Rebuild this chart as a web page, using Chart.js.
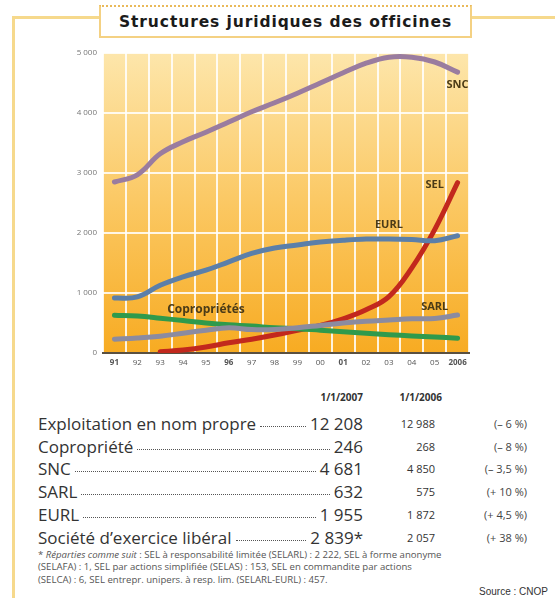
<!DOCTYPE html>
<html lang="fr">
<head>
<meta charset="utf-8">
<script src="https://cdn.jsdelivr.net/npm/chart.js@4"></script>
<style>
  body { margin: 0; width: 555px; height: 600px; position: relative; background: #fff; overflow: hidden; font-family: "Open Sans", sans-serif; }
  .frame { position: absolute; background: #f6d98c; }
  .title { position: absolute; left: 99px; top: 5px; width: 369px; height: 29px; border: 2px solid #f4d183; border-top: 2px dotted #e9b95a; background: #fff; text-align: center; line-height: 31px; font-family: "DejaVu Sans", sans-serif; font-weight: bold; font-size: 15.5px; letter-spacing: 0.9px; color: #1b1b1b; }
  #chart { position: absolute; left: 0; top: 0; }
  .hdr { position: absolute; top: 390px; font-size: 10px; font-weight: bold; color: #333; text-align: right; }
  .row { position: absolute; left: 38px; height: 23px; font-size: 17px; color: #333; }
  .lead { position: absolute; left: 0; width: 325px; display: flex; align-items: baseline; }
  .lead .dots { flex: 1; border-bottom: 1px dotted #555; margin: 0 4px; height: 0; position: relative; top: -3px; }
  .v06 { position: absolute; width: 60px; left: 337px; text-align: right; font-size: 11px; top: 4px; }
  .pct { position: absolute; width: 80px; left: 409px; text-align: right; font-size: 11px; top: 4px; color: #444; }
  .note { position: absolute; left: 38px; top: 549px; font-size: 9.6px; line-height: 12.4px; color: #555; white-space: nowrap; }
  .src { position: absolute; right: 7px; top: 586px; font-family: "Liberation Sans", sans-serif; font-size: 10px; color: #333; }
</style>
</head>
<body>
<div class="frame" style="left:12px; top:16px; width:88px; height:3px;"></div>
<div class="frame" style="left:471px; top:16px; width:84px; height:3px;"></div>
<div class="frame" style="left:12px; top:16px; width:3px; height:582px;"></div>
<div class="title">Structures juridiques des officines</div>
<canvas id="chart" width="555" height="375"></canvas>
<div id="table"></div>
<div class="note">* <i>Réparties comme suit</i> : SEL à responsabilité limitée (SELARL) : 2 222, SEL à forme anonyme<br>(SELAFA) : 1, SEL par actions simplifiée (SELAS) : 153, SEL en commandite par actions<br>(SELCA) : 6, SEL entrepr. unipers. à resp. lim. (SELARL-EURL) : 457.</div>
<div class="src">Source : CNOP</div>

<script>
// années (axe x)
const years = ["91", "92", "93", "94", "95", "96", "97", "98", "99", "00", "01", "02", "03", "04", "05", "2006"];
const boldYears = ["91", "96", "01", "2006"];
const yTicks = [0, 1000, 2000, 3000, 4000, 5000];

// séries
const snc   = [2850, 2970, 3320, 3520, 3680, 3850, 4020, 4170, 4330, 4500, 4670, 4830, 4930, 4930, 4850, 4681];
const eurl  = [915, 935, 1130, 1270, 1380, 1520, 1660, 1750, 1800, 1850, 1880, 1900, 1900, 1890, 1872, 1955];
const sel   = [null, null, 20, 50, 100, 170, 230, 300, 380, 460, 570, 720, 940, 1420, 2057, 2839];
const sarl  = [230, 250, 280, 330, 380, 420, 390, 390, 420, 460, 500, 530, 550, 570, 575, 632];
const copro = [630, 615, 580, 540, 500, 470, 450, 420, 405, 380, 355, 330, 305, 285, 268, 246];

// étiquettes posées sur les courbes : [texte, index année, valeur]
const lineLabels = [
    ["SNC", 15, 4470],
    ["SEL", 14, 2800],
    ["EURL", 12, 2130],
    ["SARL", 14, 770],
    ["Copropriétés", 4, 720]
];

// tableau
const rowLabels = ["Exploitation en nom propre", "Copropriété", "SNC", "SARL", "EURL", "Société d’exercice libéral"];
const val2007 = ["12 208", "246", "4 681", "632", "1 955", "2 839*"];
const val2006 = ["12 988", "268", "4 850", "575", "1 872", "2 057"];
const change  = ["(– 6 %)", "(– 8 %)", "(– 3,5 %)", "(+ 10 %)", "(+ 4,5 %)", "(+ 38 %)"];

// --- tableau HTML
let table = document.getElementById("table");
table.innerHTML = `<div class="hdr" style="left:303px; width:60px;">1/1/2007</div>
                   <div class="hdr" style="left:382px; width:60px;">1/1/2006</div>`;
rowLabels.forEach((l, i) => {
    table.innerHTML += `
        <div class="row" style="top:${412 + i * 22.7}px">
            <div class="lead"><span>${l}</span><span class="dots"></span><span>${val2007[i]}</span></div>
            <div class="v06">${val2006[i]}</div>
            <div class="pct">${change[i]}</div>
        </div>`;
});

// --- fond dégradé de la zone de tracé
const bgPlugin = {
    id: "bg",
    beforeDraw(chart) {
        const { ctx, chartArea: a } = chart;
        let g = ctx.createLinearGradient(0, a.top, 0, a.bottom);
        g.addColorStop(0, "#fde6ab");
        g.addColorStop(0.5, "#fbc863");
        g.addColorStop(1, "#f7ab22");
        ctx.save();
        ctx.fillStyle = g;
        ctx.fillRect(a.left, a.top, a.right - a.left, a.bottom - a.top);
        ctx.restore();
    }
};

// --- étiquettes des courbes
const labelPlugin = {
    id: "lineLabels",
    afterDatasetsDraw(chart) {
        const { ctx, scales: { x, y } } = chart;
        ctx.save();
        ctx.textAlign = "center";
        ctx.textBaseline = "middle";
        lineLabels.forEach(([t, i, v]) => {
            ctx.font = t === "Copropriétés" ? "bold 12px 'Open Sans'" : "bold 11px 'Open Sans'";
            ctx.fillStyle = "#4b3b17";
            ctx.fillText(t, x.getPixelForValue(i), y.getPixelForValue(v));
        });
        ctx.restore();
    }
};

function ds(label, data, color) {
    return {
        label: label,
        data: data,
        borderColor: color,
        borderWidth: 5,
        borderCapStyle: "round",
        pointRadius: 0,
        tension: 0.4,
        fill: false
    };
}

new Chart(document.getElementById("chart"), {
    type: "line",
    data: {
        labels: years,
        datasets: [
            ds("SNC", snc, "#9a7c9f"),
            ds("EURL", eurl, "#5b7fa9"),
            ds("SARL", sarl, "#8b8ba0"),
            ds("Copropriétés", copro, "#2f9a4c"),
            ds("SEL", sel, "#c2281d")
        ]
    },
    options: {
        responsive: false,
        animation: false,
        layout: { padding: { top: 53, right: 86, left: 0, bottom: 0 } },
        plugins: { legend: { display: false }, tooltip: { enabled: false } },
        scales: {
            x: {
                offset: true,
                grid: { offset: true, color: "rgba(255,255,255,0.85)", lineWidth: 2, drawTicks: false },
                border: { display: true, color: "#5a5040", width: 2 },
                ticks: {
                    autoSkip: false,
                    maxRotation: 0,
                    padding: 5,
                    color: "#555",
                    font: c => ({ family: "Open Sans", size: 8, weight: boldYears.includes(years[c.index]) ? "bold" : "normal" })
                },
                afterFit(s) { s.height = 22; }
            },
            y: {
                min: 0,
                max: 5000,
                afterBuildTicks(s) { s.ticks = yTicks.map(v => ({ value: v })); },
                grid: { color: "rgba(255,255,255,0.85)", lineWidth: 2, drawTicks: false },
                border: { display: false },
                ticks: {
                    padding: 6,
                    color: "#777",
                    font: { family: "Open Sans", size: 8 },
                    callback: v => v === 0 ? "0" : (v / 1000) + " 000"
                },
                afterFit(s) { s.width = 103; }
            }
        }
    },
    plugins: [bgPlugin, labelPlugin]
});
</script>
</body>
</html>
